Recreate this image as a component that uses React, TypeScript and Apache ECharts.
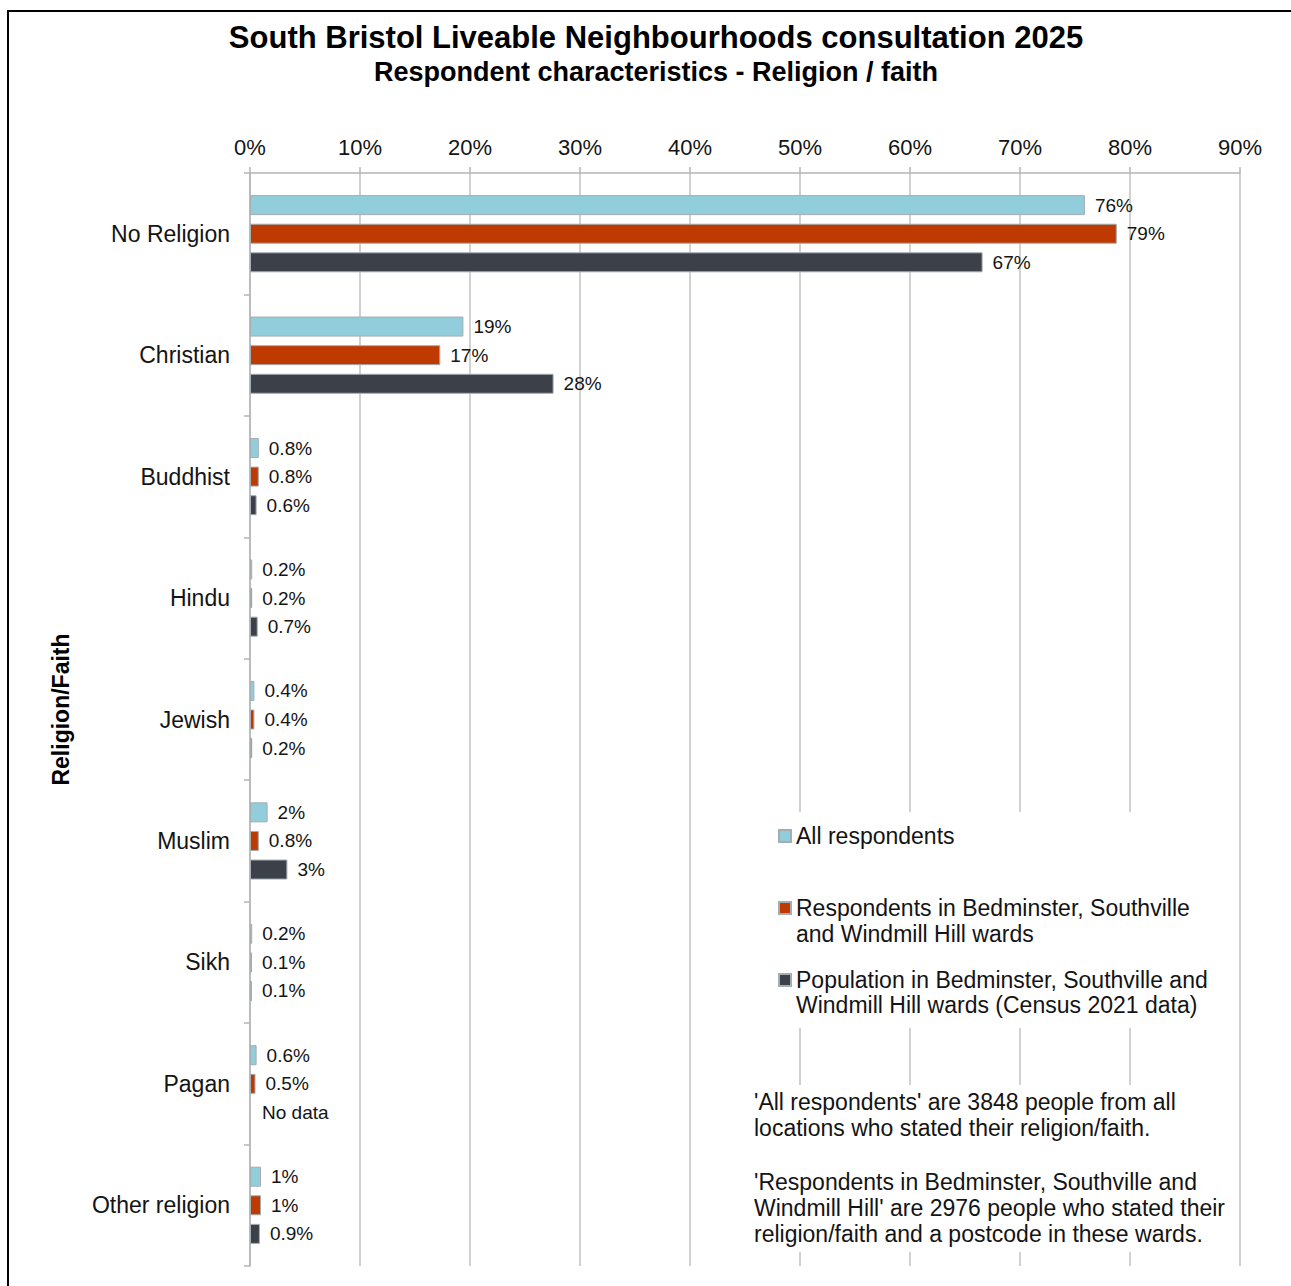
import React, { useEffect, useRef } from "react";
import * as echarts from "echarts";

const categories = [
  "No Religion",
  "Christian",
  "Buddhist",
  "Hindu",
  "Jewish",
  "Muslim",
  "Sikh",
  "Pagan",
  "Other religion",
];
const allRespondents = [75.9, 19.4, 0.8, 0.2, 0.4, 1.6, 0.2, 0.6, 1.0];
const wardRespondents = [78.8, 17.3, 0.8, 0.2, 0.4, 0.8, 0.1, 0.5, 1.0];
const wardPopulation: (number | null)[] = [66.6, 27.6, 0.6, 0.7, 0.2, 3.4, 0.1, null, 0.9];
const xTicks = [0, 10, 20, 30, 40, 50, 60, 70, 80, 90];

const seriesNames = [
  "All respondents",
  "Respondents in Bedminster, Southville",
  "Population in Bedminster, Southville and",
];
const legendSecondLines = ["and Windmill Hill wards", "Windmill Hill wards (Census 2021 data)"];
const colors = ["#92CDDC", "#BE3A00", "#3B4049"];
const titleText = "South Bristol Liveable Neighbourhoods consultation 2025";
const subtitleText = "Respondent characteristics - Religion / faith";
const yAxisName = "Religion/Faith";
const note1 = "'All respondents' are 3848 people from all\nlocations who stated their religion/faith.";
const note2 =
  "'Respondents in Bedminster, Southville and\nWindmill Hill' are 2976 people who stated their\nreligion/faith and a postcode in these wards.";
const noDataText = "No data";

const FONT = "'Liberation Sans', Arial, sans-serif";
const TXT = "#141414";

function fmt(v: number): string {
  return v >= 1 ? Math.round(v) + "%" : v.toFixed(1) + "%";
}

export default function App() {
  const ref = useRef<HTMLDivElement>(null);
  useEffect(() => {
    if (!ref.current) return;
    const chart = echarts.init(ref.current, null, { renderer: "svg" });
    const dataSets = [allRespondents, wardRespondents, wardPopulation];
    const series = dataSets.map((arr, i) => ({
      name: seriesNames[i],
      type: "bar",
      barWidth: 20,
      barGap: "43%",
      barMinHeight: 2,
      itemStyle: { color: colors[i], borderColor: "#a3adb2", borderWidth: 1 },
      label: {
        show: true,
        position: "right",
        distance: 10,
        fontFamily: FONT,
        fontSize: 19,
        color: TXT,
        formatter: (p: any) => fmt(p.value),
      },
      data: arr.map((v) =>
        v === null
          ? {
              value: 0,
              itemStyle: { borderWidth: 0, color: "rgba(0,0,0,0)" },
              label: { formatter: noDataText },
            }
          : v
      ),
    }));

    chart.setOption({
      animation: false,
      backgroundColor: "#ffffff",
      title: {
        text: titleText,
        subtext: subtitleText,
        left: 656,
        top: 22,
        textAlign: "center",
        itemGap: 5,
        padding: 0,
        textStyle: { fontFamily: FONT, fontSize: 31, fontWeight: "bold", color: "#000" },
        subtextStyle: { fontFamily: FONT, fontSize: 27, fontWeight: "bold", color: "#000" },
      },
      legend: {
        orient: "vertical",
        left: 778,
        top: 823,
        itemWidth: 12,
        itemHeight: 12,
        itemGap: 46,
        z: 20,
        padding: 0,
        icon: "rect",
        textStyle: { fontFamily: FONT, fontSize: 23, color: TXT, lineHeight: 26 },
        data: seriesNames,
      },
      grid: { left: 250, right: 51, top: 173, bottom: 20, containLabel: false },
      xAxis: {
        type: "value",
        position: "top",
        min: 0,
        max: 90,
        interval: 10,
        axisLine: { show: true, lineStyle: { color: "#b5b5b5", width: 1.5 } },
        axisTick: { show: true, length: 6, lineStyle: { color: "#b5b5b5", width: 1.5 } },
        splitLine: { show: true, lineStyle: { color: "#c2c2c2", width: 1.5 } },
        axisLabel: {
          margin: 15,
          fontFamily: FONT,
          fontSize: 22,
          color: TXT,
          formatter: (v: number) => (xTicks.includes(v) ? v + "%" : ""),
        },
      },
      yAxis: {
        type: "category",
        inverse: true,
        data: categories,
        name: yAxisName,
        nameLocation: "middle",
        nameRotate: 90,
        nameGap: 178,
        nameTextStyle: { fontFamily: FONT, fontSize: 23, fontWeight: "bold", color: "#000", padding: [0, 0, 0, 20] },
        axisLine: { show: true, lineStyle: { color: "#b5b5b5", width: 1.5 } },
        axisTick: { show: true, length: 6, lineStyle: { color: "#b5b5b5", width: 1.5 } },
        axisLabel: { margin: 20, fontFamily: FONT, fontSize: 23, color: TXT },
      },
      graphic: [
        {
          type: "rect",
          z: 100,
          silent: true,
          shape: { x: 8, y: 11, width: 1400, height: 1400 },
          style: { fill: "none", stroke: "#000", lineWidth: 2 },
        },
        {
          type: "rect",
          z: 10,
          silent: true,
          shape: { x: 760, y: 812, width: 450, height: 216 },
          style: { fill: "#ffffff" },
        },
        {
          type: "rect",
          z: 10,
          silent: true,
          shape: { x: 745, y: 1085, width: 488, height: 167 },
          style: { fill: "#ffffff" },
        },
        {
          type: "text",
          z: 21,
          x: 796,
          y: 934,
          style: { text: legendSecondLines[0], font: `23px ${FONT}`, fill: TXT, verticalAlign: "middle" },
        },
        {
          type: "text",
          z: 21,
          x: 796,
          y: 1005,
          style: { text: legendSecondLines[1], font: `23px ${FONT}`, fill: TXT, verticalAlign: "middle" },
        },
        {
          type: "text",
          z: 21,
          x: 754,
          y: 1089,
          style: { text: note1, font: `23px ${FONT}`, fill: TXT, lineHeight: 26, verticalAlign: "top" },
        },
        {
          type: "text",
          z: 21,
          x: 754,
          y: 1169,
          style: { text: note2, font: `23px ${FONT}`, fill: TXT, lineHeight: 26, verticalAlign: "top" },
        },
      ],
      series,
    });
    return () => chart.dispose();
  }, []);
  return (
    <div
      ref={ref}
      style={{ position: "absolute", left: 0, top: 0, width: 1291, height: 1286 }}
    />
  );
}
